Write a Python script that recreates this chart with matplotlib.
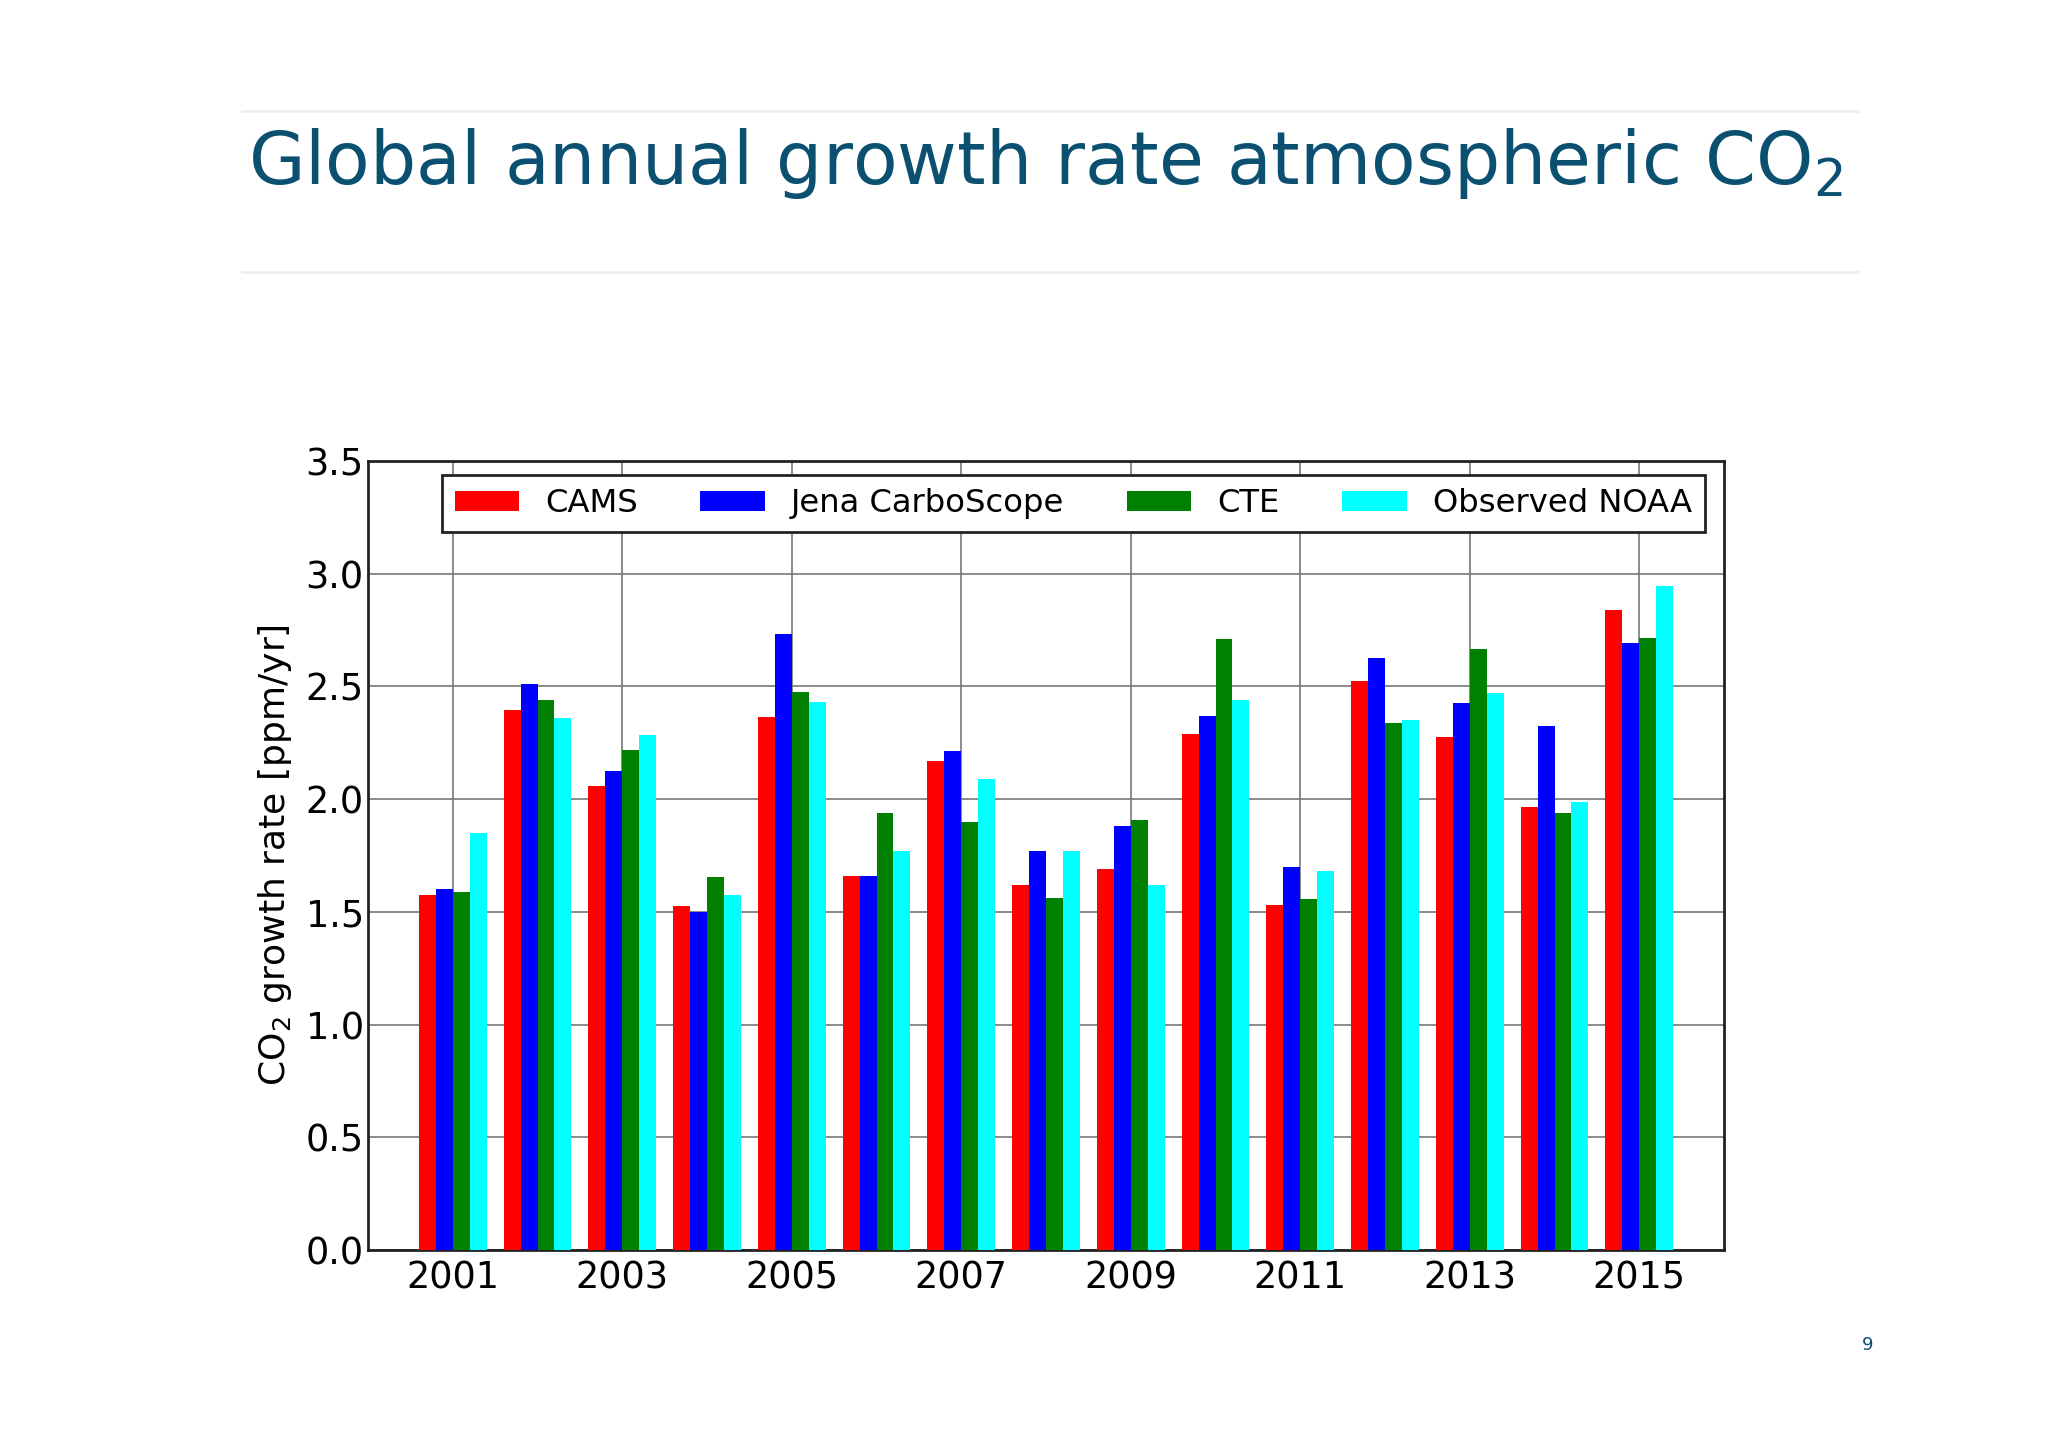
import numpy as np
import matplotlib
matplotlib.use("Agg")
import matplotlib.pyplot as plt
from matplotlib.lines import Line2D

# values
years = np.arange(2001, 2016)
cams = [1.575, 2.397, 2.06, 1.528, 2.366, 1.657, 2.167, 1.617, 1.69, 2.289, 1.53, 2.523, 2.275, 1.967, 2.84]
jena = [1.60, 2.51, 2.127, 1.50, 2.732, 1.657, 2.214, 1.768, 1.88, 2.369, 1.70, 2.624, 2.425, 2.326, 2.692]
cte = [1.59, 2.44, 2.22, 1.655, 2.476, 1.94, 1.90, 1.563, 1.908, 2.709, 1.559, 2.338, 2.664, 1.939, 2.714]
noaa = [1.85, 2.36, 2.284, 1.573, 2.432, 1.772, 2.09, 1.772, 1.62, 2.441, 1.68, 2.35, 2.472, 1.988, 2.944]

series = [("CAMS", cams, "#ff0000"),
          ("Jena CarboScope", jena, "#0000ff"),
          ("CTE", cte, "#008000"),
          ("Observed NOAA", noaa, "#00ffff")]
xticks = np.arange(2001, 2016, 2)
yticks = np.arange(0, 3.51, 0.5)

TEAL = "#0b5070"

fig = plt.figure(figsize=(10.24, 7.24), dpi=200)
fig.patch.set_facecolor("white")

# slide header
fig.text(0.121, 0.873, "Global annual growth rate atmospheric CO$_2$",
         fontsize=26.3, color=TEAL, ha="left", va="baseline", family="DejaVu Sans")
for yy in (1 - 111 / 1448, 1 - 272 / 1448):
    fig.add_artist(Line2D([242 / 2048, 1858 / 2048], [yy, yy], transform=fig.transFigure,
                          color="#eeeeee", lw=1.0))
fig.text(1868 / 2048, 1 - 1345 / 1448, "9", fontsize=6.5, color=TEAL, ha="center", va="center")

ax = fig.add_axes([368 / 2048, 1 - 1250 / 1448, (1724 - 368) / 2048, (1250 - 461) / 1448])
width = 0.2
for i, (name, vals, col) in enumerate(series):
    ax.bar(years + (i - 1.5) * width, vals, width, color=col, label=name, lw=0, zorder=3)

ax.set_xlim(2000, 2016)
ax.set_ylim(0, 3.5)
ax.set_xticks(xticks)
ax.set_yticks(yticks)
ax.set_yticklabels([f"{v:.1f}" for v in yticks])
ax.tick_params(labelsize=13.2, length=0)
ax.tick_params(axis="y", pad=1.5)
ax.tick_params(axis="x", pad=3.5)
ax.grid(True, color="#777777", lw=0.6, zorder=0)
ax.set_axisbelow(True)
for s in ax.spines.values():
    s.set_linewidth(1.0)
    s.set_color("#222222")
ax.set_ylabel("CO$_2$ growth rate [ppm/yr]", fontsize=13, labelpad=4)

leg = ax.legend(loc="upper center", ncol=4, fontsize=11.6, frameon=True, fancybox=False,
                edgecolor="#222222", framealpha=1, handlelength=2.0, handleheight=0.6,
                handletextpad=0.8, columnspacing=1.95, borderaxespad=0.45, borderpad=0.4,
                bbox_to_anchor=(0.52, 1.0))
leg.get_frame().set_linewidth(1.0)

fig.savefig("out.png", dpi=200, facecolor="white")
